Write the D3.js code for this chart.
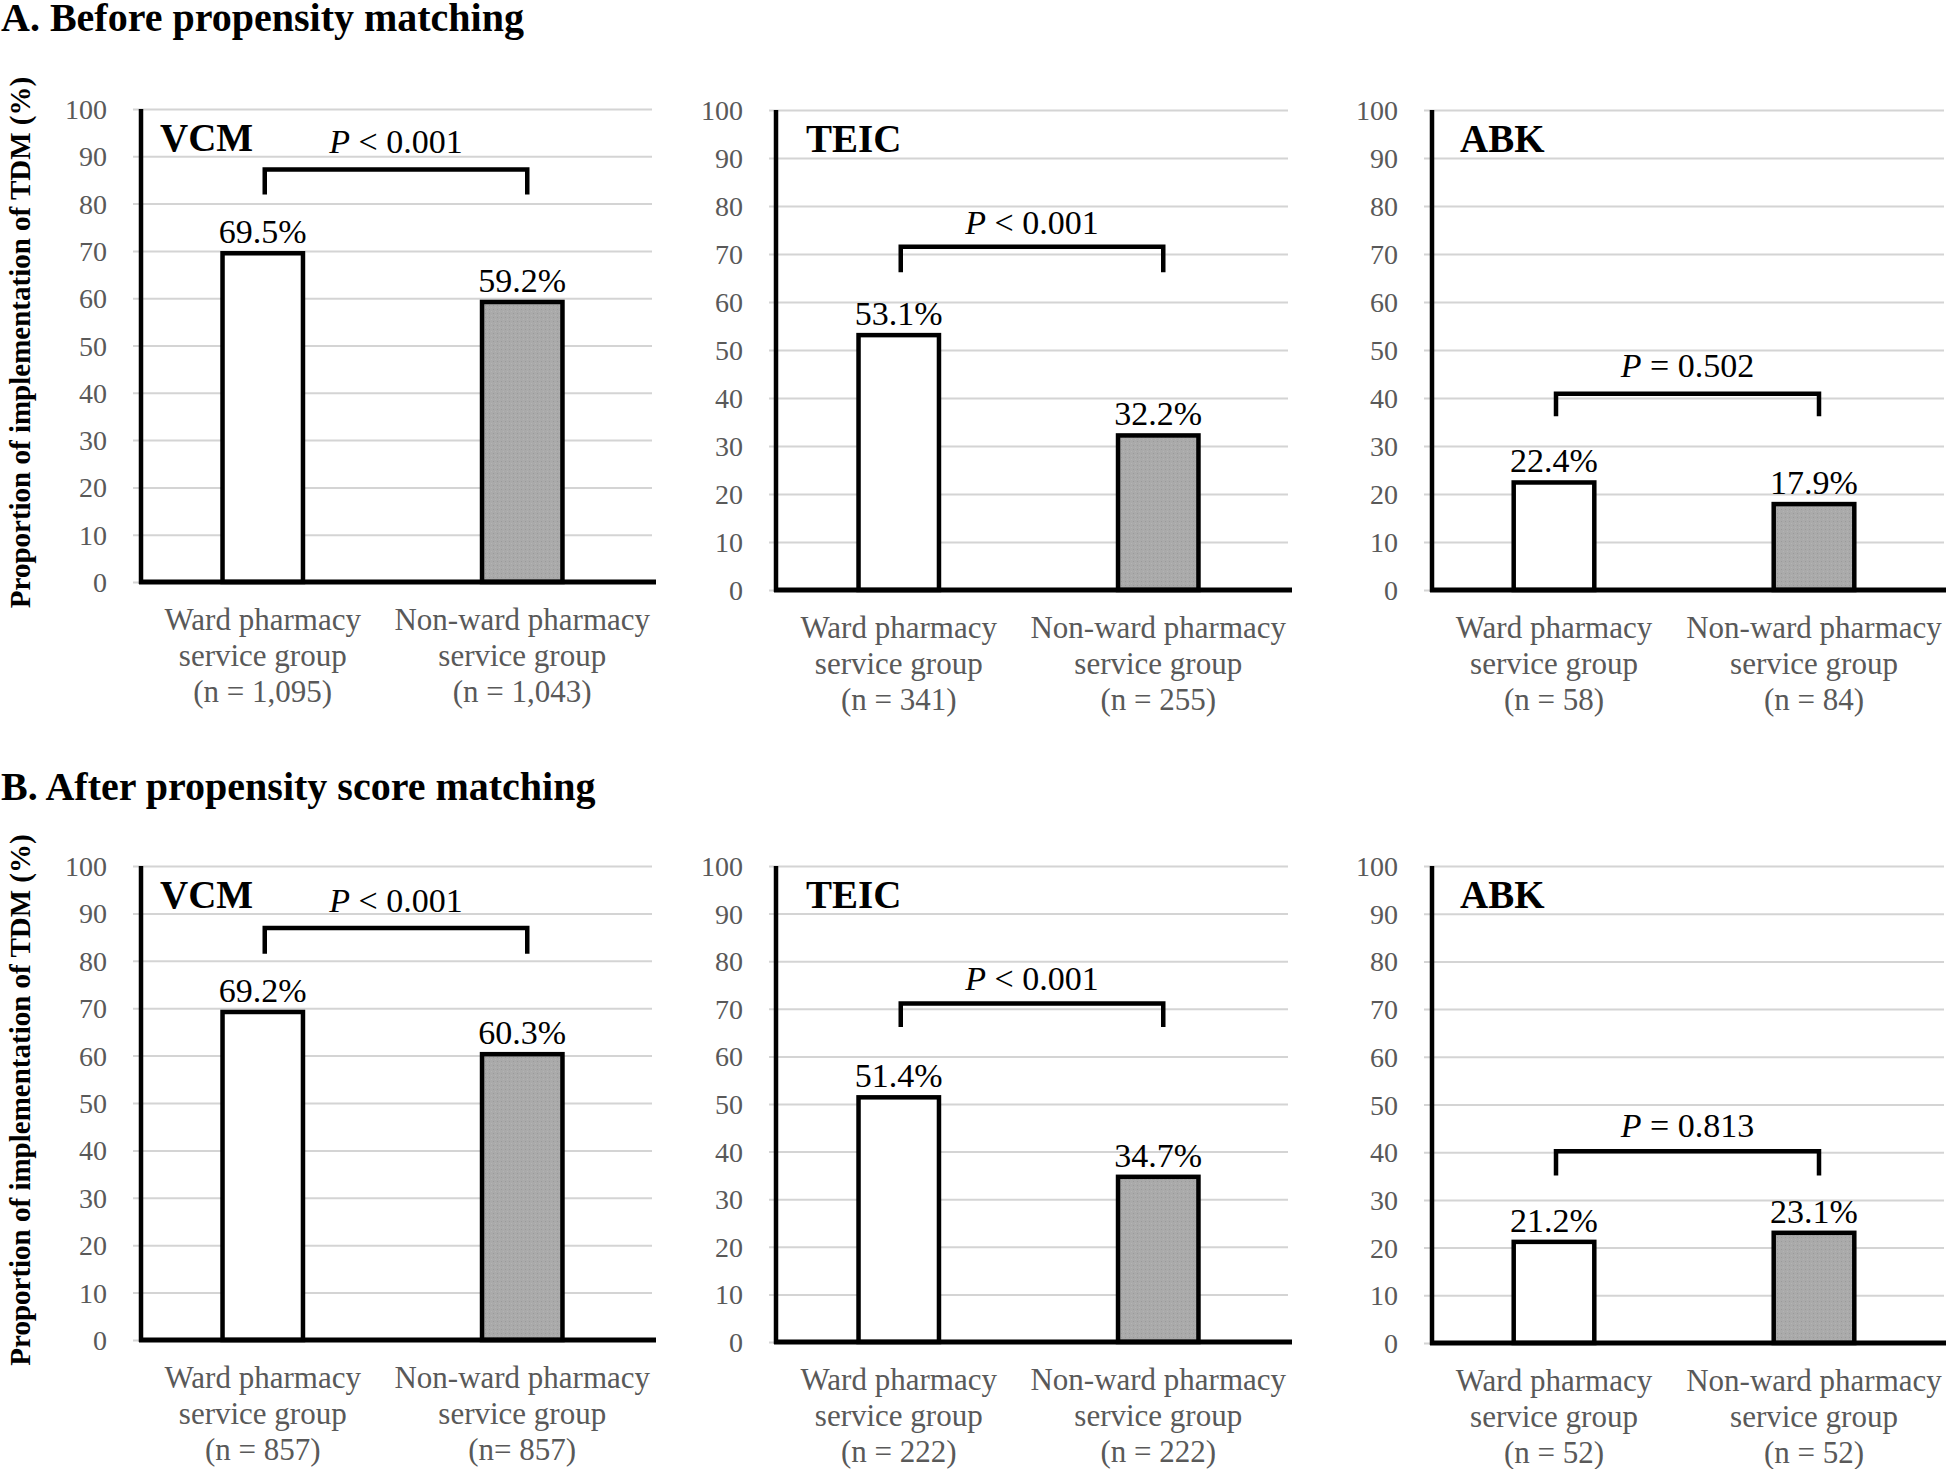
<!DOCTYPE html>
<html>
<head>
<meta charset="utf-8">
<script src="https://cdn.jsdelivr.net/npm/d3@7"></script>
<style>
  html, body { margin: 0; padding: 0; background: #fff; }
  svg { display: block; }
  text { font-family: "Liberation Serif", "Times New Roman", Times, serif; }
</style>
</head>
<body>
<svg id="chart" width="1946" height="1469"></svg>
<script>
// ---------------- DATA ----------------
const sectionTitles = ["A. Before propensity matching", "B. After propensity score matching"];
const yAxisTitle = "Proportion of implementation of TDM (%)";
const drugs = ["VCM", "TEIC", "ABK"];
const groups = ["ward", "nonward"];
const groupLines = [["Ward pharmacy", "service group"], ["Non-ward pharmacy", "service group"]];
const yTicks = [0, 10, 20, 30, 40, 50, 60, 70, 80, 90, 100];

const beforeValues = [[69.5, 59.2], [53.1, 32.2], [22.4, 17.9]];
const afterValues  = [[69.2, 60.3], [51.4, 34.7], [21.2, 23.1]];
const beforeN = [["(n = 1,095)", "(n = 1,043)"], ["(n = 341)", "(n = 255)"], ["(n = 58)", "(n = 84)"]];
const afterN  = [["(n = 857)", "(n= 857)"], ["(n = 222)", "(n = 222)"], ["(n = 52)", "(n = 52)"]];
const beforeP = ["< 0.001", "< 0.001", "= 0.502"];
const afterP  = ["< 0.001", "< 0.001", "= 0.813"];

// ---------------- LAYOUT (positions, not data) ----------------
const cols = [
  { g0: 133, g1: 652, axis: 141, titleDx: 19 },
  { g0: 769, g1: 1288, axis: 776, titleDx: 30 },
  { g0: 1424, g1: 1944, axis: 1432, titleDx: 28 }
];
const rows = [
  { titleY: 31, y100: [109, 110, 110], y0: [582, 590, 590],
    // annotation levels in axis units: [P text baseline, bracket top, bracket foot]
    ann: [[90.7, 87.2, 81.9], [74.2, 71.5, 66.2], [44.3, 40.9, 36.2]] },
  { titleY: 800, y100: [866, 866, 866], y0: [1340, 1342, 1343],
    ann: [[90.3, 86.9, 81.5], [74.0, 71.1, 66.2], [43.1, 40.2, 35.1]] }
];
const sections = [
  { values: beforeValues, n: beforeN, p: beforeP },
  { values: afterValues, n: afterN, p: afterP }
];
const barFill = ["#ffffff", "#a8a8a8"];
const FONT = '"Liberation Serif", "Times New Roman", Times, serif';

const svg = d3.select("#chart");

// dotted texture for grey bars
const defs = svg.append("defs");
const pat = defs.append("pattern").attr("id", "dots").attr("patternUnits", "userSpaceOnUse")
  .attr("width", 4).attr("height", 4);
pat.append("rect").attr("width", 4).attr("height", 4).attr("fill", "#aaaaaa");
pat.append("rect").attr("x", 1).attr("y", 1).attr("width", 1).attr("height", 1).attr("fill", "#9a9a9a");
pat.append("rect").attr("x", 3).attr("y", 3).attr("width", 1).attr("height", 1).attr("fill", "#b4b4b4");

sections.forEach((sec, r) => {
  const row = rows[r];
  // section title
  svg.append("text")
    .attr("x", 1).attr("y", row.titleY)
    .attr("font-size", 40).attr("font-weight", "bold").attr("fill", "#000")
    .text(sectionTitles[r]);

  drugs.forEach((drug, c) => {
    const col = cols[c];
    const y = d3.scaleLinear().domain([0, 100]).range([row.y0[c], row.y100[c]]);
    const x = d3.scaleBand().domain(groups).range([col.g0, col.g1]).padding(0);
    const bw = x.bandwidth() * 0.31;
    const g = svg.append("g");

    // gridlines + tick labels via d3 axis
    const ax = d3.axisLeft(y).tickValues(yTicks).tickSize(-(col.g1 - col.g0)).tickPadding(26)
      .tickFormat(d3.format("d"));
    const axG = g.append("g").attr("transform", `translate(${col.g0},0)`).call(ax);
    axG.select(".domain").remove();
    axG.selectAll(".tick line").attr("stroke", "#d4d4d4").attr("stroke-width", 2);
    axG.selectAll(".tick text").attr("font-size", 28).attr("fill", "#595959")
      .attr("font-family", FONT).attr("dy", "0.34em");

    // bars
    const vals = sec.values[c];
    g.selectAll("rect.bar").data(groups).join("rect")
      .attr("class", "bar")
      .attr("x", d => x(d) + x.bandwidth() / 2 - bw / 2)
      .attr("width", bw)
      .attr("y", (d, i) => y(vals[i]))
      .attr("height", (d, i) => y(0) - y(vals[i]))
      .attr("fill", (d, i) => i === 0 ? barFill[0] : "url(#dots)")
      .attr("stroke", "#000").attr("stroke-width", 4.5);

    // y axis line and baseline
    g.append("line").attr("x1", col.axis).attr("x2", col.axis)
      .attr("y1", y(100)).attr("y2", y(0) + 2)
      .attr("stroke", "#000").attr("stroke-width", 4.5);
    g.append("line").attr("x1", col.axis - 2).attr("x2", Math.min(col.g1 + 4, 1946))
      .attr("y1", y(0)).attr("y2", y(0))
      .attr("stroke", "#000").attr("stroke-width", 5);

    // value labels
    g.selectAll("text.val").data(groups).join("text")
      .attr("class", "val")
      .attr("x", d => x(d) + x.bandwidth() / 2)
      .attr("y", (d, i) => y(vals[i]) - 10)
      .attr("text-anchor", "middle").attr("font-size", 34).attr("fill", "#000")
      .text((d, i) => vals[i].toFixed(1) + "%");

    // drug title
    g.append("text").attr("x", col.axis + col.titleDx).attr("y", y(91.2))
      .attr("font-size", 39).attr("font-weight", "bold").attr("fill", "#000")
      .text(drug);

    // significance bracket
    const [pLev, bTop, bFoot] = row.ann[c];
    const cx1 = x(groups[0]) + x.bandwidth() / 2 + 2;
    const cx2 = x(groups[1]) + x.bandwidth() / 2 + 5;
    g.append("path")
      .attr("d", `M${cx1},${y(bFoot)}V${y(bTop)}H${cx2}V${y(bFoot)}`)
      .attr("fill", "none").attr("stroke", "#000").attr("stroke-width", 4.5)
      .attr("stroke-linejoin", "miter").attr("stroke-linecap", "butt");
    const pt = g.append("text").attr("x", (cx1 + cx2) / 2).attr("y", y(pLev))
      .attr("text-anchor", "middle").attr("font-size", 34).attr("fill", "#000");
    pt.append("tspan").attr("font-style", "italic").text("P");
    pt.append("tspan").text(" " + sec.p[c]);

    // category labels
    groups.forEach((gr, i) => {
      const lines = [groupLines[i][0], groupLines[i][1], sec.n[c][i]];
      const t = g.append("text").attr("text-anchor", "middle")
        .attr("font-size", 31).attr("fill", "#595959");
      lines.forEach((ln, k) => {
        t.append("tspan").attr("x", x(gr) + x.bandwidth() / 2)
          .attr("y", y(0) + 47.5 + k * 36).text(ln);
      });
    });
  });

  // y-axis title (leftmost panel)
  const cy = (row.y100[0] + row.y0[0]) / 2;
  svg.append("text")
    .attr("transform", `translate(30,${cy - 3}) rotate(-90)`)
    .attr("text-anchor", "middle").attr("font-size", 29).attr("font-weight", "bold").attr("fill", "#000")
    .text(yAxisTitle);
});
</script>
</body>
</html>
